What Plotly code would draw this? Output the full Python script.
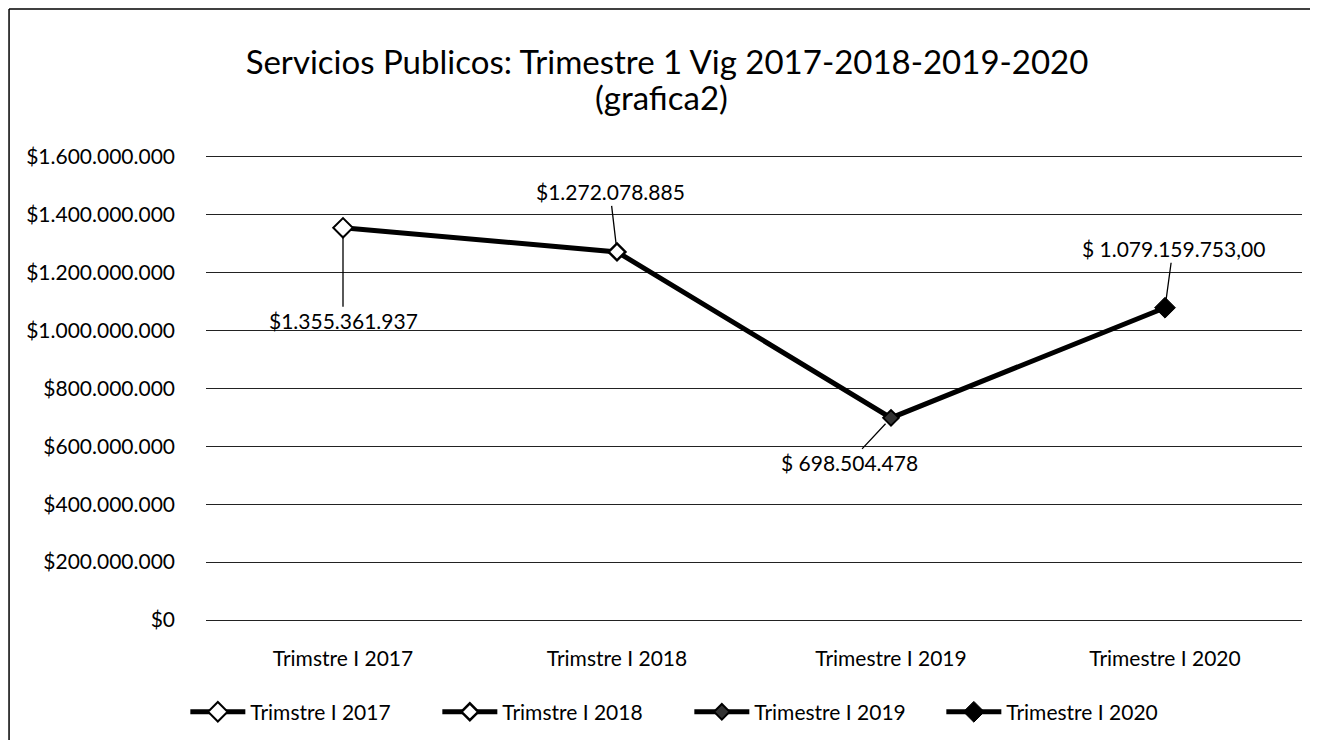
import plotly.graph_objects as go

categorias = ['Trimstre I 2017', 'Trimstre I 2018', 'Trimestre I 2019', 'Trimestre I 2020']
valores = [1355361937, 1272078885, 698504478, 1079159753]
etiquetas = ['$1.355.361.937', '$1.272.078.885', '$ 698.504.478', '$ 1.079.159.753,00']
ticks_y = [0, 200000000, 400000000, 600000000, 800000000, 1000000000,
           1200000000, 1400000000, 1600000000]
ticks_y_texto = ['$0', '$200.000.000', '$400.000.000', '$600.000.000', '$800.000.000',
                 '$1.000.000.000', '$1.200.000.000', '$1.400.000.000', '$1.600.000.000']

fuente = 'Lato'

fig = go.Figure()

# linea principal que une los trimestres
fig.add_trace(go.Scatter(
    x=categorias, y=valores, mode='lines',
    line=dict(color='black', width=5),
    showlegend=False, hoverinfo='skip'
))

# un marcador por trimestre, como en el original de Excel
marcadores = [
    dict(symbol='diamond', size=15, color='white', line=dict(color='black', width=2)),
    dict(symbol='diamond', size=13, color='white', line=dict(color='black', width=2.5)),
    dict(symbol='diamond', size=12, color='#333', line=dict(color='black', width=2)),
    dict(symbol='diamond', size=16, color='black', line=dict(color='black', width=1)),
]
for cat, val, mk in zip(categorias, valores, marcadores):
    fig.add_trace(go.Scatter(
        x=[cat], y=[val], mode='lines+markers', name=cat,
        line=dict(color='black', width=5), marker=mk
    ))

# etiquetas de datos con linea guia
desplaz = [(0, 93), (-7, -60), (-42, 45), (8, -59)]
for cat, val, txt, (ax, ay) in zip(categorias, valores, etiquetas, desplaz):
    fig.add_annotation(
        x=cat, y=val, text=txt, showarrow=True, arrowhead=0,
        arrowwidth=1.3, arrowcolor='black', ax=ax, ay=ay, standoff=8,
        font=dict(family=fuente, size=21, color='black')
    )

# segunda linea del titulo
fig.add_annotation(
    text='(grafica2)', xref='paper', yref='paper', x=0.416, y=1.13,
    xanchor='center', yanchor='middle', showarrow=False,
    font=dict(family=fuente, size=33, color='black')
)

# marco del grafico (bordes izquierdo y superior)
fig.add_shape(type='line', xref='paper', yref='paper', x0=-0.1797, x1=-0.1797,
              y0=-0.3, y1=1.3197, line=dict(color='black', width=1.5))
fig.add_shape(type='line', xref='paper', yref='paper', x0=-0.1797, x1=1.03,
              y0=1.3197, y1=1.3197, line=dict(color='black', width=1.5))

fig.update_layout(
    width=1318, height=740,
    paper_bgcolor='white', plot_bgcolor='white',
    margin=dict(l=198, r=24, t=149, b=128, autoexpand=False),
    title=dict(
        text='Servicios Publicos: Trimestre 1 Vig 2017-2018-2019-2020',
        x=0.5, xanchor='center', y=0.927, yanchor='middle',
        font=dict(family=fuente, size=33, color='black')
    ),
    font=dict(family=fuente, size=21, color='black'),
    legend=dict(
        orientation='h', x=0.441, xanchor='center', y=-0.199, yanchor='middle',
        font=dict(family=fuente, size=21, color='black'),
        itemwidth=55, entrywidthmode='pixels', entrywidth=182
    ),
    showlegend=True
)
fig.update_xaxes(
    showgrid=False, showline=True, mirror=True, linecolor='#222', linewidth=1.2,
    ticks='', range=[-0.5, 3.5], ticklabelstandoff=20,
    tickfont=dict(family=fuente, size=21, color='black')
)
fig.update_yaxes(
    range=[0, 1600000000], tickvals=ticks_y, ticktext=ticks_y_texto,
    showgrid=True, gridcolor='#222', gridwidth=1.2,
    zeroline=True, zerolinecolor='#222', zerolinewidth=1.2,
    showline=False, ticks='', ticklabelstandoff=30,
    tickfont=dict(family=fuente, size=21, color='black')
)

fig.write_html('out.html')
